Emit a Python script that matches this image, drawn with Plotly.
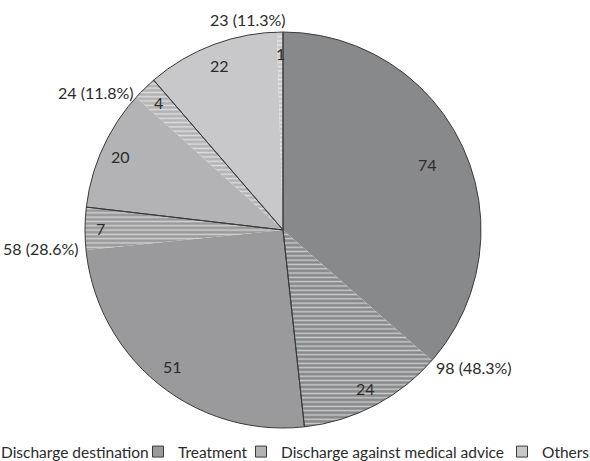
import math
import plotly.graph_objects as go

# Discharge destination groups and how each splits into a plain and a hatched part
groups = ["Discharge destination", "Treatment", "Discharge against medical advice", "Others"]
group_totals = [98, 58, 24, 23]
plain_parts = [74, 51, 20, 22]
hatched_parts = [24, 7, 4, 1]

# ---- layout / style constants ----
W, H = 590, 461
CX, CY, R = 283, 230, 198            # pie centre and radius in px
group_colors = ["#88898b", "#9a9a9c", "#b3b3b5", "#c8c8ca"]
edge_color = "#3a3a3a"
text_color = "#2b2b2b"
FONT = "Lato"
FS = 16
LEGEND_FS = 15.5

# radial position (fraction of radius) of each slice's value label
inner_label_r = [0.80, 0.90, 0.89, 0.92, 0.90, 0.90, 0.89, 0.89]
# px centres of the group total labels
group_label_xy = [(474, 367), (41, 248), (96, 92), (248, 19)]
# px where each legend entry's text starts, and the legend row's vertical centre
legend_text_x = [1, 178, 281, 542]
legend_y = 452

total = sum(group_totals)

slice_vals, slice_names, slice_shapes, slice_colors = [], [], [], []
for g, c, p, h in zip(groups, group_colors, plain_parts, hatched_parts):
    slice_vals += [p, h]
    slice_names += [g + " ", g + "  "]
    slice_shapes += ["", "-"]
    slice_colors += [c, c]

domain = dict(x=[(CX - R) / W, (CX + R) / W],
              y=[1 - (CY + R) / H, 1 - (CY - R) / H])

fig = go.Figure()

# slice-level pie: fill colours, with hatching on the second part of each group
fig.add_trace(go.Pie(
    labels=slice_names, values=slice_vals, sort=False, direction="clockwise",
    marker=dict(colors=slice_colors, line=dict(width=0),
                pattern=dict(shape=slice_shapes, fillmode="overlay",
                             fgcolor="white", fgopacity=0.55,
                             size=4.3, solidity=0.35)),
    textinfo="none", hoverinfo="skip", showlegend=False, domain=domain,
))

# group-level pie on top: transparent fill, dark outlines between groups
fig.add_trace(go.Pie(
    labels=groups, values=group_totals, sort=False, direction="clockwise",
    marker=dict(colors=["rgba(0,0,0,0)"] * len(groups),
                line=dict(color=edge_color, width=1)),
    textinfo="none", hoverinfo="skip", showlegend=False, domain=domain,
))

annotations = []

# value labels inside each slice, at the slice's mid angle
cum = 0
for i, v in enumerate(slice_vals):
    mid = (cum + v / 2) / total * 2 * math.pi
    cum += v
    r = inner_label_r[i] * R
    px = CX + r * math.sin(mid)
    py = CY - r * math.cos(mid)
    annotations.append(dict(
        x=px / W, y=1 - py / H, xref="paper", yref="paper",
        text=str(v), showarrow=False, xanchor="center", yanchor="middle",
        font=dict(family=FONT, size=FS, color=text_color),
    ))

# group totals with percentages
for v, (px, py) in zip(group_totals, group_label_xy):
    annotations.append(dict(
        x=px / W, y=1 - py / H, xref="paper", yref="paper",
        text=f"{v} ({v / total * 100:.1f}%)", showarrow=False,
        xanchor="center", yanchor="middle",
        font=dict(family=FONT, size=FS, color=text_color),
    ))

# legend: one entry per group, each in its own legend box so spacing can be set
legend_layout = {}
for i, (g, c) in enumerate(zip(groups, group_colors)):
    lid = "legend" if i == 0 else f"legend{i + 1}"
    fig.add_trace(go.Scatter(
        x=[None], y=[None], mode="markers", name=g, legend=lid,
        marker=dict(symbol="square", size=11, color=c,
                    line=dict(color=edge_color, width=1)),
        hoverinfo="skip",
    ))
    legend_layout[lid] = dict(
        x=(legend_text_x[i] - 40) / W, y=1 - legend_y / H,
        xanchor="left", yanchor="middle", orientation="h",
        bgcolor="rgba(0,0,0,0)", borderwidth=0,
        font=dict(family=FONT, size=LEGEND_FS, color=text_color),
    )

fig.update_layout(
    width=W, height=H,
    margin=dict(l=0, r=0, t=0, b=0, autoexpand=False),
    paper_bgcolor="white", plot_bgcolor="white",
    xaxis=dict(visible=False), yaxis=dict(visible=False),
    annotations=annotations,
    **legend_layout,
)

fig.write_html("out.html")
